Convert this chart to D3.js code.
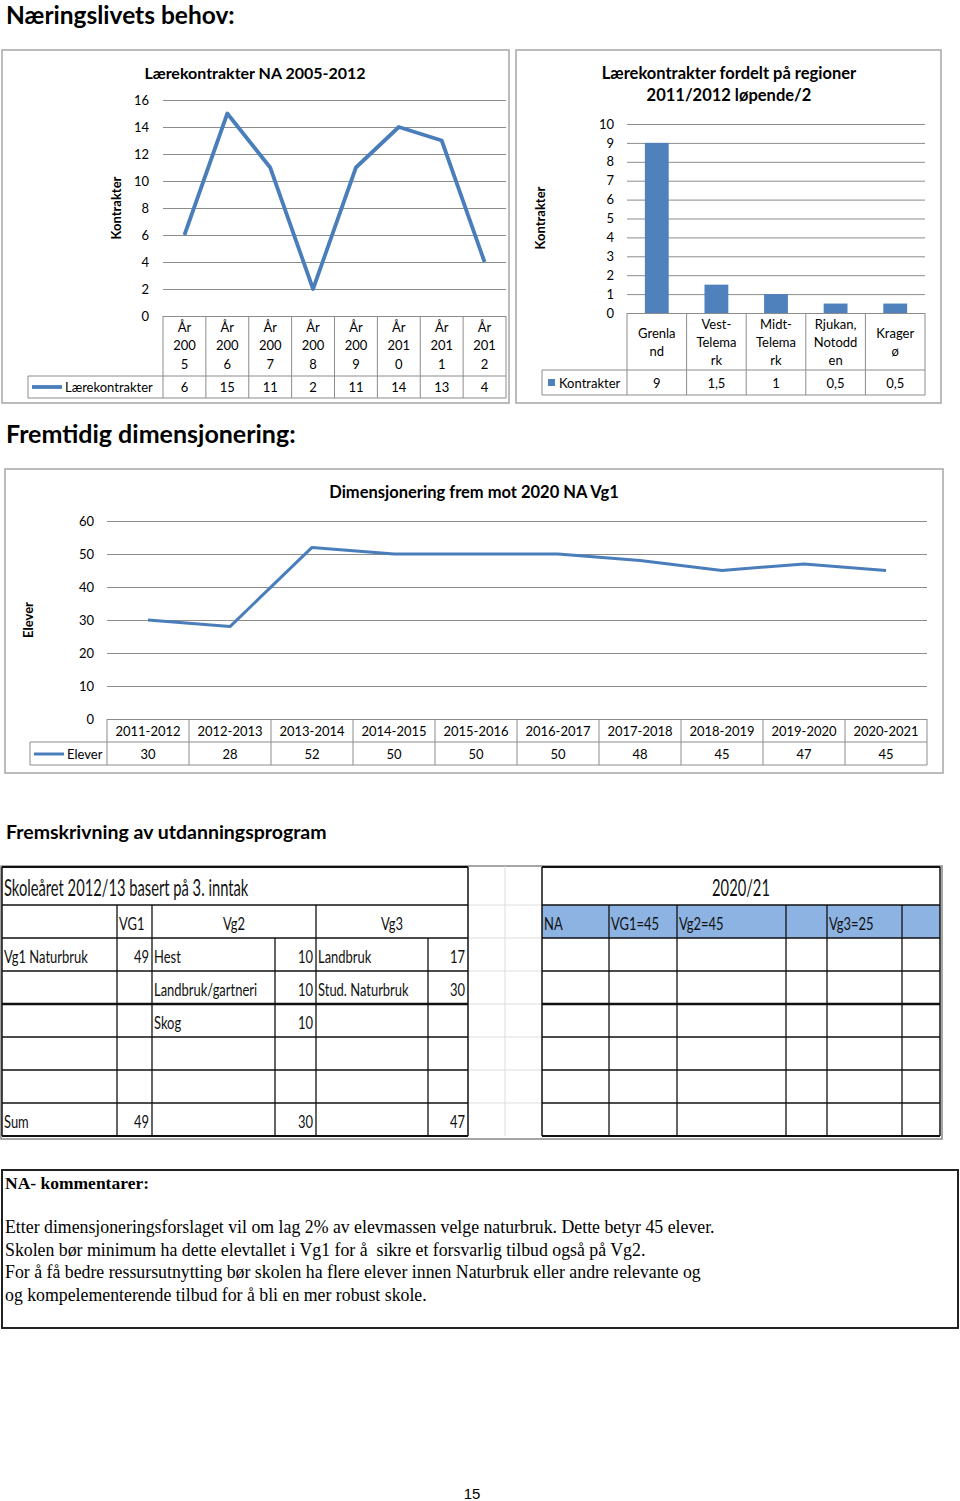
<!DOCTYPE html>
<html><head><meta charset="utf-8">
<script src="https://cdn.jsdelivr.net/npm/d3@7"></script>
<style>body{margin:0;background:#fff}svg{display:block}</style>
</head><body>
<svg id="c" width="960" height="1501"></svg>
<script>
// ---------- DATA ----------
const years = ["År 2005","År 2006","År 2007","År 2008","År 2009","År 2010","År 2011","År 2012"];
const yearWrap = ["År|200|5","År|200|6","År|200|7","År|200|8","År|200|9","År|201|0","År|201|1","År|201|2"];
const contracts = [6,15,11,2,11,14,13,4];
const contractTicks = [0,2,4,6,8,10,12,14,16];

const regions = ["Grenland","Vest-Telemark","Midt-Telemark","Rjukan, Notodden","Kragerø"];
const regionWrap = ["Grenla|nd","Vest-|Telema|rk","Midt-|Telema|rk","Rjukan,|Notodd|en","Krager|ø"];
const regionContracts = [9,1.5,1,0.5,0.5];
const regionTicks = [0,1,2,3,4,5,6,7,8,9,10];

const schoolYears = ["2011-2012","2012-2013","2013-2014","2014-2015","2015-2016","2016-2017","2017-2018","2018-2019","2019-2020","2020-2021"];
const students = [30,28,52,50,50,50,48,45,47,45];
const studentTicks = [0,10,20,30,40,50,60];

const tableTitle = "Skoleåret 2012/13 basert på 3. inntak";
const levelHeads = ["VG1","Vg2","Vg3"];
const vg1Programs = ["Vg1 Naturbruk"];  const vg1Counts = [49];
const vg2Programs = ["Hest","Landbruk/gartneri","Skog"]; const vg2Counts = [10,10,10];
const vg3Programs = ["Landbruk","Stud. Naturbruk"]; const vg3Counts = [17,30];
const sumLabel = "Sum"; const sumCounts = [49,30,47];
const projTitle = "2020/21";
const projHeads = ["NA","VG1=45","Vg2=45","","Vg3=25",""];

const commentTitle = "NA- kommentarer:";
const commentLines = [
 "Etter dimensjoneringsforslaget vil om lag 2% av elevmassen velge naturbruk. Dette betyr 45 elever.",
 "Skolen bør minimum ha dette elevtallet i Vg1 for å  sikre et forsvarlig tilbud også på Vg2.",
 "For å få bedre ressursutnytting bør skolen ha flere elever innen Naturbruk eller andre relevante og",
 "og kompelementerende tilbud for å bli en mer robust skole."
];

// ---------- DRAW ----------
const svg = d3.select("#c");
const FONT = "Lato, 'Open Sans', sans-serif";
const BLUE = "#4a7ebb", BAR = "#4f81bd", GRID = "#8c8c8c", FRAME = "#a6a6a6";
const fmt = v => String(v).replace(".", ",");

function heading(t, x, y, s){
  svg.append("text").attr("x",x).attr("y",y).attr("font-family",FONT).attr("font-weight",700)
    .attr("font-size",s).attr("fill","#000").text(t);
}
heading("Næringslivets behov:", 6, 24, 24.5);
heading("Fremtidig dimensjonering:", 6, 443, 25);
heading("Fremskrivning av utdanningsprogram", 6, 839, 19.5);

function drawChart(o){
  const g = svg.append("g");
  g.append("rect").attr("x",o.frame[0]).attr("y",o.frame[1]).attr("width",o.frame[2]).attr("height",o.frame[3])
    .attr("fill","#fff").attr("stroke",FRAME).attr("stroke-width",1.5);
  o.title.forEach((t,i)=>g.append("text").attr("x",o.titleX).attr("y",o.titleY+i*22).attr("text-anchor","middle")
    .attr("font-family",FONT).attr("font-weight",700).attr("font-size",o.titleSize).text(t));
  const x = d3.scaleBand().domain(o.cats).range([o.left,o.right]);
  const y = d3.scaleLinear().domain([0,o.max]).range([o.zero,o.top]);
  const ax = g.append("g").attr("transform",`translate(${o.left},0)`)
    .call(d3.axisLeft(y).tickValues(o.ticks).tickSize(-(o.right-o.left)).tickPadding(o.tickPad).tickFormat(d3.format("d")));
  ax.select(".domain").remove();
  ax.selectAll("line").attr("stroke",GRID).attr("stroke-width",1);
  ax.selectAll("text").attr("font-family",FONT).attr("font-size",13).attr("fill","#000");
  // y label
  g.append("text").attr("transform",`translate(${o.ylab[0]},${o.ylab[1]}) rotate(-90)`).attr("text-anchor","middle")
    .attr("font-family",FONT).attr("font-weight",700).attr("font-size",13).text(o.ylabel);
  // data table lines
  const bounds = o.cats.map(c=>x(c)).concat([o.right]);
  g.selectAll(".vb").data(bounds).join("line").attr("x1",d=>d).attr("x2",d=>d).attr("y1",o.zero).attr("y2",o.rowBottom)
    .attr("stroke",GRID).attr("stroke-width",1);
  [o.catBottom,o.rowBottom].forEach(yy=>g.append("line").attr("x1",o.legendLeft).attr("x2",o.right).attr("y1",yy).attr("y2",yy)
    .attr("stroke",GRID).attr("stroke-width",1));
  g.append("line").attr("x1",o.legendLeft).attr("x2",o.legendLeft).attr("y1",o.catBottom).attr("y2",o.rowBottom)
    .attr("stroke",GRID).attr("stroke-width",1);
  // category labels
  o.cats.forEach((c,i)=>{
    const lines = o.wrap ? o.wrap[i].split("|") : [c];
    lines.forEach((l,j)=>g.append("text").attr("x",x(c)+x.bandwidth()/2)
      .attr("y",o.catMid+(j-(lines.length-1)/2)*o.lh).attr("dy","0.36em").attr("text-anchor","middle")
      .attr("font-family",FONT).attr("font-size",13).text(l));
    g.append("text").attr("x",x(c)+x.bandwidth()/2).attr("y",o.valMid).attr("dy","0.36em").attr("text-anchor","middle")
      .attr("font-family",FONT).attr("font-size",13).text(fmt(o.vals[i]));
  });
  // marks
  if(o.type==="line"){
    g.append("path").datum(o.vals.map((v,i)=>[o.cats[i],v]))
      .attr("d",d3.line().x(d=>x(d[0])+x.bandwidth()/2).y(d=>y(d[1])))
      .attr("fill","none").attr("stroke",BLUE).attr("stroke-width",o.lw).attr("stroke-linejoin","round");
    g.append("line").attr("x1",o.legendLeft+4).attr("x2",o.legendLeft+34).attr("y1",o.valMid).attr("y2",o.valMid)
      .attr("stroke",BLUE).attr("stroke-width",o.lw);
    g.append("text").attr("x",o.legendLeft+37).attr("y",o.valMid).attr("dy","0.36em")
      .attr("font-family",FONT).attr("font-size",13).text(o.series);
  } else {
    const bw = x.bandwidth()*0.4;
    g.selectAll(".bar").data(o.vals).join("rect").attr("x",(d,i)=>x(o.cats[i])+(x.bandwidth()-bw)/2)
      .attr("y",d=>y(d)).attr("width",bw).attr("height",d=>y(0)-y(d)).attr("fill",BAR);
    g.append("rect").attr("x",o.legendLeft+6).attr("y",o.valMid-4).attr("width",7).attr("height",7).attr("fill",BAR);
    g.append("text").attr("x",o.legendLeft+17).attr("y",o.valMid).attr("dy","0.36em")
      .attr("font-family",FONT).attr("font-size",13).text(o.series);
  }
}

drawChart({type:"line", frame:[2,50,507,353], title:["Lærekontrakter NA 2005-2012"], titleX:255, titleY:79, titleSize:16,
  cats:years, wrap:yearWrap, vals:contracts, max:16, ticks:contractTicks, left:163, right:506, top:100, zero:316, tickPad:14,
  catBottom:376, rowBottom:398, legendLeft:28, catMid:345.5, lh:18.5, valMid:387, ylabel:"Kontrakter", ylab:[121,208],
  series:"Lærekontrakter", lw:3.8});

drawChart({type:"bar", frame:[516,50,425,353], title:["Lærekontrakter fordelt på regioner","2011/2012 løpende/2"], titleX:729, titleY:79, titleSize:16.5,
  cats:regions, wrap:regionWrap, vals:regionContracts, max:10, ticks:regionTicks, left:627, right:925, top:124, zero:313, tickPad:13,
  catBottom:370, rowBottom:395, legendLeft:542, catMid:342, lh:18, valMid:383, ylabel:"Kontrakter", ylab:[545,218],
  series:"Kontrakter"});

drawChart({type:"line", frame:[5,469,938,304], title:["Dimensjonering frem mot 2020 NA Vg1"], titleX:474, titleY:498, titleSize:16.5,
  cats:schoolYears, vals:students, max:60, ticks:studentTicks, left:107, right:927, top:521, zero:719, tickPad:13,
  catBottom:742, rowBottom:765, legendLeft:30, catMid:731, lh:18, valMid:754, ylabel:"Elever", ylab:[33,620],
  series:"Elever", lw:3});

// ---------- TABLE IMAGE ----------
const T = svg.append("g");
const SX = 0.72;
const LC = [2,117,152,275,316,428,468];
const RC = [542,609,677,786,827,902,940];
const rowY = d3.scaleBand().domain(d3.range(6)).range([938,1136]);
const TOP = 867, HEAD = 905;
function ct(x,y,s,anchor,size,sx){
  T.append("text").attr("transform",`translate(${x},${y}) scale(${sx||SX},1)`).attr("text-anchor",anchor||"start")
    .attr("font-family",FONT).attr("font-size",size||18).attr("fill","#111").text(s);
}
function ln(x1,y1,x2,y2,w,c){ T.append("line").attr("x1",x1).attr("y1",y1).attr("x2",x2).attr("y2",y2)
  .attr("stroke",c||"#111").attr("stroke-width",w||1.3); }

T.append("rect").attr("x",1).attr("y",866).attr("width",941).attr("height",273).attr("fill","#fff").attr("stroke","#888").attr("stroke-width",1.5);
// faint spreadsheet gridlines
ln(505,866,505,1136,1,"#ddd");
rowY.domain().forEach(i=>ln(468,rowY(i),542,rowY(i),1,"#ddd"));
ln(468,HEAD,542,HEAD,1,"#ddd");
// blue header
T.append("rect").attr("x",RC[0]).attr("y",HEAD).attr("width",RC[6]-RC[0]).attr("height",rowY(0)-HEAD).attr("fill","#8db3e2");
// table frames and lines
[LC,RC].forEach(C=>{
  ln(C[0],TOP,C[6],TOP,2); ln(C[0],TOP,C[0],1136,1.5); ln(C[6],TOP,C[6],1136,1.5);
  ln(C[0],HEAD,C[6],HEAD,1.3);
  rowY.domain().forEach(i=>ln(C[0],rowY(i),C[6],rowY(i),i===2?2.5:1.3));
  ln(C[0],1136,C[6],1136,2);
});
[LC[1],LC[2],LC[4]].forEach(xx=>ln(xx,HEAD,xx,1136));
[LC[3],LC[5]].forEach(xx=>ln(xx,rowY(0),xx,1136));
RC.slice(1,6).forEach(xx=>ln(xx,HEAD,xx,1136));

const base = i => rowY(i)+rowY.bandwidth()-8;
ct(4,896,tableTitle,"start",23,0.64);
ct(119,930,levelHeads[0]);
ct((LC[2]+LC[4])/2,930,levelHeads[1],"middle");
ct((LC[4]+LC[6])/2,930,levelHeads[2],"middle");
vg1Programs.forEach((p,i)=>{ ct(4,base(i),p); ct(LC[2]-3,base(i),vg1Counts[i],"end"); });
vg2Programs.forEach((p,i)=>{ ct(LC[2]+2,base(i),p); ct(LC[4]-3,base(i),vg2Counts[i],"end"); });
vg3Programs.forEach((p,i)=>{ ct(LC[4]+2,base(i),p); ct(LC[6]-3,base(i),vg3Counts[i],"end"); });
ct(4,base(5),sumLabel);
[LC[2],LC[4],LC[6]].forEach((xx,i)=>ct(xx-3,base(5),sumCounts[i],"end"));
ct((RC[0]+RC[6])/2,896,projTitle,"middle",23,0.64);
projHeads.forEach((h,i)=>ct(RC[i]+2,930,h));

// ---------- COMMENTS ----------
const C = svg.append("g");
const SERIF = "'Liberation Serif', 'Times New Roman', serif";
C.append("rect").attr("x",2).attr("y",1170).attr("width",956).attr("height",158).attr("fill","#fff").attr("stroke","#222").attr("stroke-width",2);
C.append("text").attr("x",5).attr("y",1189).attr("font-family",SERIF).attr("font-weight",700)
  .attr("font-size",17.5).text(commentTitle);
commentLines.forEach((l,i)=>C.append("text").attr("x",5).attr("y",1233+i*22.5).attr("font-family",SERIF)
  .attr("font-size",17.8).style("white-space","pre").text(l));

svg.append("text").attr("x",472).attr("y",1499).attr("text-anchor","middle").attr("font-family","'Liberation Sans', Arial, sans-serif")
  .attr("font-size",15).text("15");
</script>
</body></html>
